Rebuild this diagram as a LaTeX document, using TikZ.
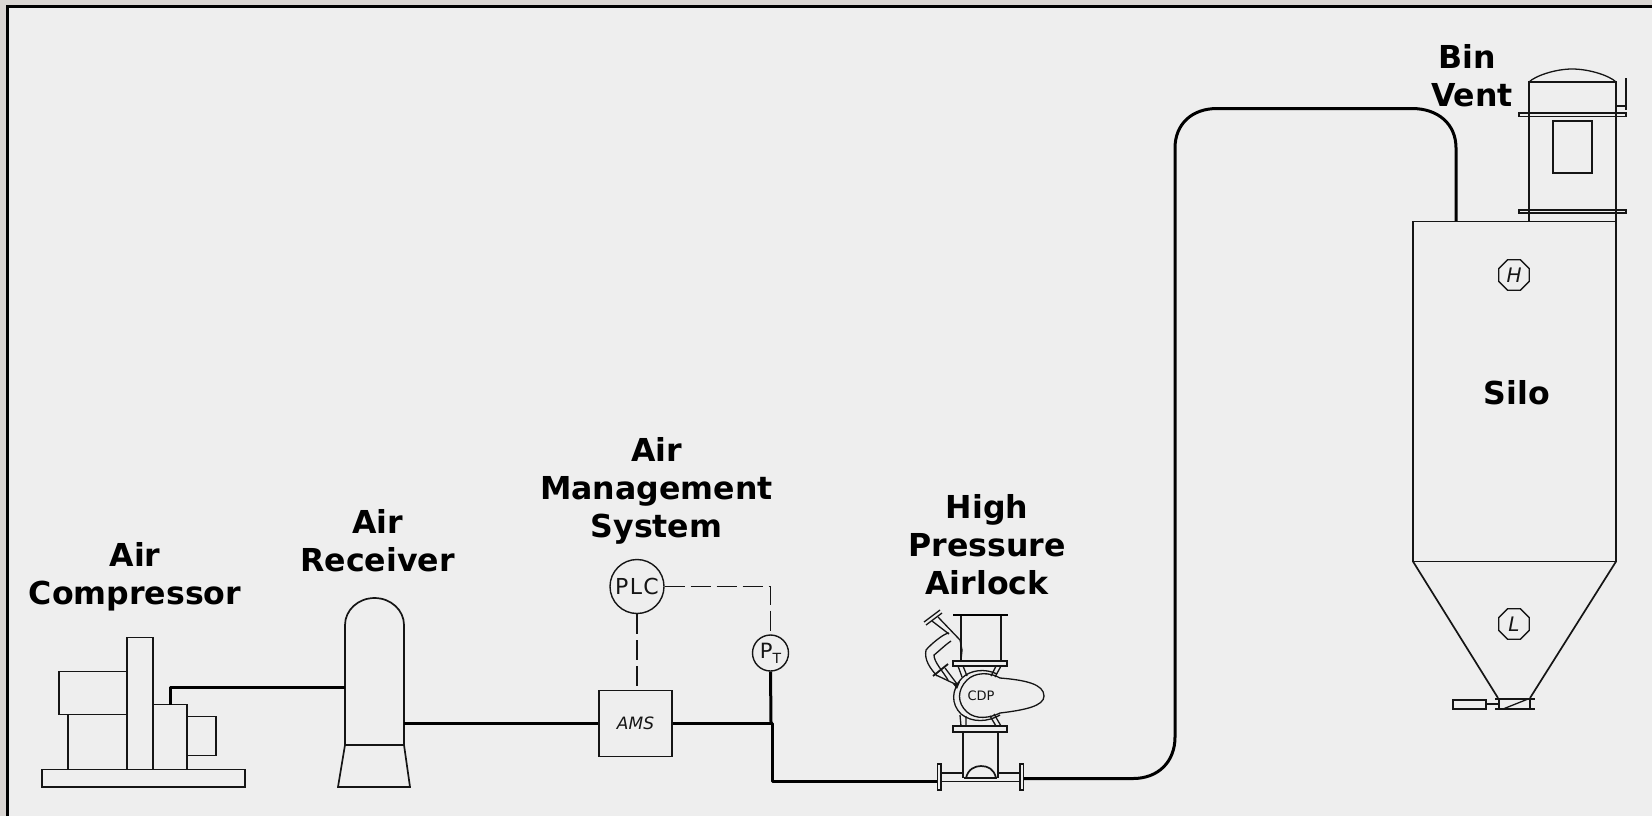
\documentclass[tikz,border=0pt]{standalone}
\usepackage{fontspec}
\setmainfont{DejaVu Sans}
\newfontfamily\spaced[LetterSpace=6]{DejaVu Sans}
\usetikzlibrary{shapes.geometric}
\definecolor{panel}{HTML}{EEEEEE}
\definecolor{outer}{HTML}{D9D5D2}
\definecolor{ink}{HTML}{151515}
\tikzset{
  eq/.style={draw=ink,line width=0.85pt,line join=miter,fill=none},
  fine/.style={draw=ink,line width=0.65pt},
  pipe/.style={draw=black,line width=1.5pt,line join=round},
  signal/.style={draw=ink,line width=0.7pt,dash pattern=on 10pt off 3pt},
  lbl/.style={font=\bfseries\fontsize{15.8}{19}\selectfont,align=center,text=black,inner sep=0pt},
  inst/.style={circle,draw=ink,line width=0.7pt,inner sep=0pt,text=ink},
  octa/.style={regular polygon,regular polygon sides=8,draw=ink,line width=0.7pt,minimum size=16.5pt,inner sep=0pt,text=ink,font=\itshape\fontsize{10}{10}\selectfont},
}
\begin{document}
\begin{tikzpicture}[x=0.5pt,y=-0.5pt]
\useasboundingbox (0,0) rectangle (1652,816);
\fill[outer] (0,0) rectangle (1652,816);
\fill[panel] (7,6) rectangle (1652,816);
\draw[black,line width=1.5pt] (7.5,816) -- (7.5,6.5) -- (1652,6.5);

% Air compressor
\draw[eq] (42,769.5) rectangle (245,787);
\draw[eq] (127,637.5) rectangle (153,769.5);
\draw[eq] (59,671.5) rectangle (127,714.5);
\draw[eq] (68,714.5) rectangle (127,769.5);
\node[draw=none,inner sep=0pt,minimum size=0pt] (compout) at (170,704.5) {};
\draw[eq] (153,704.5) rectangle (187,769.5);
\draw[eq] (187,716.5) rectangle (216,755.5);

% Air receiver
\draw[eq] (345,745) -- (345,625) arc[start angle=180,end angle=360,x radius=29.5,y radius=27] -- (404,745);
\draw[eq] (345,745) -- (404,745);
\draw[eq] (345,745) -- (338,787) -- (410,787) -- (404,745);
\coordinate (recin) at (345,687);
\coordinate (recout) at (404,723);

% AMS, PLC, PT
\node[eq,draw=ink,minimum width=36.5pt,minimum height=33pt,inner sep=0pt,font=\itshape\fontsize{8.5}{9}\selectfont,text=ink] (ams) at (635.5,723.5) {AMS};
\node[inst,minimum size=27pt,font=\spaced\fontsize{11}{11}\selectfont] (plc) at (637,586.5) {PLC};
\node[inst,minimum size=18pt,font=\fontsize{10.5}{10}\selectfont] (pt) at (770.5,653) {P\raisebox{-2.5pt}{\fontsize{7}{7}\selectfont T}};
\coordinate (tee) at (771,723);
\draw[signal] (plc.south) -- (plc.south |- ams.north);
\draw[signal] (plc.east) -- (pt.north |- plc.east) -- (pt.north);

% pipes
\draw[pipe] (compout.center) -- (170,687) -- (recin);
\draw[pipe] (recout) -- (ams.west |- recout);
\draw[pipe] (ams.east |- tee) -- (tee);
\draw[pipe] (pt.south) -- (tee);
\coordinate (lf) at (937,781.5);
\coordinate (rf) at (1024,778.5);
\draw[pipe] (tee) -- (772.5,723) -- (772.5,781.5) -- (lf);
\coordinate (vent) at (1456,221);
\draw[pipe] (rf) -- (1133,778.5) .. controls (1158,778.5) and (1175,762) .. (1175,737) -- (1175,148) .. controls (1175,124) and (1192,108.5) .. (1217,108.5) -- (1412,108.5) .. controls (1438,108.5) and (1456,124) .. (1456,148) -- (vent);

% High pressure airlock
\draw[eq] (937.5,764) rectangle (941,790);
\draw[eq] (1020,764) rectangle (1023.5,790);
\draw[eq] (941,773) -- (963,773) (998,773) -- (1020,773);
\draw[eq] (941,781.5) -- (1020,781.5);
\draw[eq] (963,733) -- (963,778) (998,733) -- (998,778);
\draw[eq,line width=1pt] (964,778) -- (997,778);
\draw[eq] (966,778) .. controls (968,769) and (975,766) .. (981,766) .. controls (988,766) and (994,769) .. (996,778);
\draw[eq] (953,726) rectangle (1007,732);
\draw[eq,line width=1.1pt] (953,661) rectangle (1007,666);
\draw[eq] (961,615) -- (961,661) (1001,615) -- (1001,661);
\draw[black,line width=1.2pt] (953,615) -- (1008,615);
% necks
\draw[fine] (958,666) -- (962,677) (963,666) -- (967,676) (1001,666) -- (995,677) (996,666) -- (991,676);
\draw[fine] (961,726) -- (960,715) (966,726) -- (966,716) (1001,726) -- (994,714) (996,726) -- (990,716);
% body lobe
\draw[fine] (1000,678) .. controls (1025,680) and (1044,684) .. (1044,696) .. controls (1044,706) and (1025,710) .. (1000,713);
\draw[fine] (1000,678) .. controls (990,672) and (975,672) .. (967,680) .. controls (957,690) and (957,703) .. (967,712) .. controls (976,720) and (990,718) .. (1000,713);
\draw[fine] (997,674) .. controls (985,668) and (970,670) .. (962,678) .. controls (951,690) and (951,704) .. (961,714) .. controls (972,723) and (988,722) .. (1000,715);
\node[font=\fontsize{6.5}{7}\selectfont,text=ink,inner sep=0pt] (cdp) at (981,696) {CDP};
% valve
\draw[fine] (924,622) -- (940,610) (926,625) -- (942,613);
\draw[fine] (932,621) -- (949,634) (938,617) -- (960,640) -- (962,650) -- (961,660);
\draw[fine] (949,633) .. controls (944,633) and (930,645) .. (926,650) .. controls (924,660) and (930,668) .. (937,676);
\draw[fine] (951,641) .. controls (945,645) and (938,652) .. (934,655) .. controls (934,662) and (942,670) .. (948,680);
\draw[fine,line width=0.9pt] (933,676) -- (948,664);
\draw[fine] (936,675) -- (955,684) (945,668) -- (957,684);
\fill[ink] (953,684) -- (960,682) -- (957,689) -- cycle;

% Silo
\draw[eq] (1413,221.5) rectangle (1616,561.5);
\draw[eq] (1413,561.5) -- (1498,698) (1616,561.5) -- (1530,698);
\node[octa] (hi) at (1514,275) {H};
\node[octa] (lo) at (1514,624) {L};
\draw[eq] (1495,699) -- (1535,699) (1495,709) -- (1535,709);
\draw[eq] (1499,699) -- (1499,709) (1530,699) -- (1530,709);
\draw[fine] (1503,709) -- (1528,699);
\draw[eq] (1453,700) rectangle (1486,709);
\draw[eq] (1486,704) -- (1499,704);

% Bin vent
\draw[eq] (1529,221) -- (1529,82) -- (1616,82) -- (1616,221);
\draw[fine] (1529,82) .. controls (1535,76) and (1555,69) .. (1572,69) .. controls (1590,69) and (1610,76) .. (1616,82);
\draw[eq] (1519,113) rectangle (1626,116.5);
\draw[eq] (1519,210) rectangle (1626,213);
\draw[eq] (1553,121) rectangle (1592,173);
\draw[eq] (1626,78) -- (1626,110) (1616,106) -- (1626,106);

% Labels
\node[lbl] (l1) at (135,577) {Air\\Compressor};
\node[lbl] (l2) at (377.5,541) {Air\\Receiver};
\node[lbl] (l3) at (656.5,491) {Air\\Management\\System};
\node[lbl] (l4) at (987,544.5) {High\\Pressure\\Airlock};
\node[lbl] (l5a) at (1467,56) {Bin};
\node[lbl] (l5b) at (1472,95) {Vent};
\node[lbl] (l6) at (1517,393) {Silo};
\end{tikzpicture}
\end{document}
